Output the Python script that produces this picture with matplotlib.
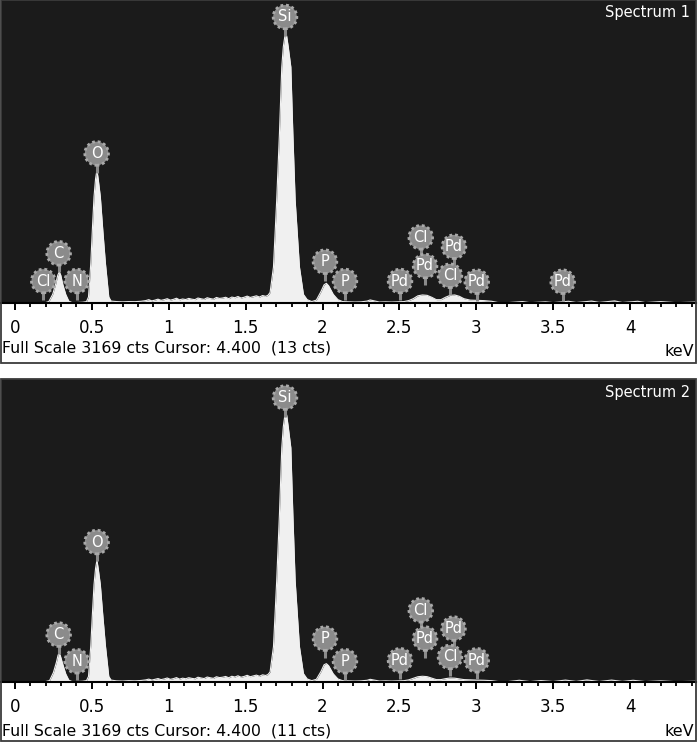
import numpy as np
import matplotlib
matplotlib.use("Agg")
import matplotlib.pyplot as plt
from matplotlib.patches import Rectangle

# ---------------- data ----------------
full_scale = 3169

energy1 = [0.17, 0.20, 0.22, 0.245, 0.265, 0.278, 0.288, 0.298, 0.31, 0.33, 0.35, 0.37,
           0.40, 0.44, 0.465, 0.478, 0.493, 0.503, 0.514, 0.524, 0.533, 0.541, 0.555, 0.571, 0.588, 0.61, 0.625,
           0.66, 0.70, 0.74, 0.78, 0.82, 0.85, 0.87, 0.89, 0.91, 0.93, 0.95, 0.97, 0.99, 1.01, 1.03,
           1.05, 1.07, 1.09, 1.11, 1.13, 1.15, 1.17, 1.19, 1.21, 1.23, 1.25, 1.27, 1.29, 1.31, 1.33,
           1.35, 1.37, 1.39, 1.41, 1.43, 1.45, 1.47, 1.49, 1.51, 1.53, 1.55, 1.57, 1.59, 1.61, 1.63, 1.645,
           1.659, 1.681, 1.702, 1.720, 1.735, 1.745, 1.755, 1.761, 1.767, 1.777, 1.794, 1.807, 1.822, 1.850, 1.876, 1.90, 1.93,
           1.96, 1.99, 2.01, 2.025, 2.04, 2.07, 2.10, 2.13,
           2.17, 2.21, 2.25, 2.29, 2.31, 2.33, 2.37, 2.41, 2.45, 2.49, 2.53, 2.56, 2.59, 2.62, 2.65, 2.68,
           2.71, 2.74, 2.77, 2.80, 2.83, 2.86, 2.89, 2.92, 2.96, 3.00, 3.05, 3.10, 3.14,
           3.2, 3.3, 3.35, 3.45, 3.5, 3.6, 3.65, 3.75, 3.8, 3.9, 3.95, 4.05, 4.1, 4.2, 4.3, 4.43]
counts1 = [0, 5, 15, 90, 200, 290, 327, 290, 200, 90, 20, 5,
           5, 8, 15, 63, 418, 764, 1112, 1300, 1390, 1300, 1112, 764, 418, 63, 20,
           15, 12, 15, 14, 18, 25, 35, 22, 30, 40, 28, 35, 45, 30, 38,
           50, 33, 42, 36, 48, 40, 35, 52, 44, 38, 55, 46, 40, 58, 48,
           52, 60, 45, 62, 55, 68, 52, 60, 72, 58, 66, 75, 62, 78, 70, 80,
           110, 377, 1077, 1778, 2468, 2680, 2790, 2824, 2790, 2680, 2468, 1778, 1077, 377, 90, 35, 15,
           30, 120, 190, 206, 180, 90, 35, 15,
           12, 10, 12, 20, 32, 25, 10, 12, 10, 12, 15, 25, 45, 75, 84, 80,
           60, 35, 35, 60, 80, 84, 70, 45, 30, 28, 25, 18, 5,
           3, 15, 3, 12, 4, 18, 5, 20, 6, 22, 5, 18, 4, 15, 3, 10]

energy2 = [0.17, 0.20, 0.225, 0.25, 0.27, 0.28, 0.287, 0.295, 0.31, 0.33, 0.35, 0.37,
           0.40, 0.44, 0.465, 0.478, 0.493, 0.503, 0.514, 0.524, 0.533, 0.541, 0.555, 0.571, 0.588, 0.61, 0.625,
           0.66, 0.70, 0.74, 0.78, 0.82, 0.85, 0.87, 0.89, 0.91, 0.93, 0.95, 0.97, 0.99, 1.01, 1.03,
           1.05, 1.07, 1.09, 1.11, 1.13, 1.15, 1.17, 1.19, 1.21, 1.23, 1.25, 1.27, 1.29, 1.31, 1.33,
           1.35, 1.37, 1.39, 1.41, 1.43, 1.45, 1.47, 1.49, 1.51, 1.53, 1.55, 1.57, 1.59, 1.61, 1.63, 1.645,
           1.659, 1.681, 1.702, 1.720, 1.735, 1.745, 1.755, 1.761, 1.767, 1.777, 1.794, 1.807, 1.822, 1.850, 1.876, 1.90, 1.93,
           1.96, 1.99, 2.01, 2.025, 2.04, 2.07, 2.10, 2.13,
           2.17, 2.21, 2.25, 2.29, 2.31, 2.33, 2.37, 2.41, 2.45, 2.49, 2.53, 2.56, 2.59, 2.62, 2.65, 2.68,
           2.71, 2.74, 2.77, 2.80, 2.83, 2.86, 2.89, 2.92, 2.96, 3.00, 3.05, 3.10, 3.14,
           3.2, 3.28, 3.35, 3.42, 3.5, 3.58, 3.65, 3.72, 3.8, 3.88, 3.95, 4.02, 4.1, 4.2, 4.3, 4.43]
counts2 = [0, 5, 15, 100, 210, 280, 303, 275, 190, 85, 20, 5,
           5, 8, 15, 58, 383, 700, 1019, 1190, 1273, 1190, 1019, 700, 383, 58, 20,
           12, 10, 14, 12, 16, 22, 30, 20, 28, 36, 25, 32, 42, 28, 35,
           46, 30, 40, 34, 45, 38, 33, 50, 42, 36, 52, 44, 38, 55, 46,
           50, 58, 44, 60, 52, 65, 50, 58, 70, 55, 64, 72, 60, 75, 68, 78,
           105, 370, 1060, 1760, 2450, 2670, 2790, 2824, 2790, 2670, 2450, 1760, 1060, 370, 88, 32, 14,
           28, 110, 180, 192, 170, 85, 32, 14,
           12, 10, 12, 18, 28, 22, 10, 12, 10, 12, 14, 22, 38, 55, 60, 56,
           40, 25, 25, 35, 42, 40, 32, 25, 22, 20, 18, 14, 5,
           3, 18, 4, 15, 5, 20, 6, 22, 5, 20, 6, 18, 4, 12, 3, 8]

# element markers: name, energy (keV), marker height (cts)
names1 = ["Cl", "C", "N", "O", "Si", "P", "P", "Cl", "Pd", "Pd", "Pd", "Cl", "Pd", "Pd"]
lines1 = [0.184, 0.284, 0.401, 0.531, 1.756, 2.016, 2.146, 2.639, 2.667, 2.504, 2.855, 2.829, 3.003, 3.562]
marks1 = [230, 520, 230, 1564, 2992, 432, 230, 687, 387, 230, 589, 285, 223, 223]

names2 = ["C", "N", "O", "Si", "P", "P", "Cl", "Pd", "Pd", "Pd", "Cl", "Pd"]
lines2 = [0.284, 0.401, 0.531, 1.756, 2.016, 2.146, 2.639, 2.667, 2.504, 2.852, 2.829, 3.003]
marks2 = [496, 217, 1464, 2975, 454, 217, 750, 454, 227, 559, 262, 227]

spectrum_titles = ["Spectrum 1", "Spectrum 2"]
cursor_texts = ["Full Scale 3169 cts Cursor: 4.400  (13 cts)",
                "Full Scale 3169 cts Cursor: 4.400  (11 cts)"]

# ---------------- layout ----------------
W, H = 700, 742
fig = plt.figure(figsize=(W / 100, H / 100), dpi=100)
fig.patch.set_facecolor("white")

def fx(px):
    return px / W

def fy(py):
    return 1 - py / H

panel_tops = [0, 379]
dark_h = 303
box_bottoms = [363, 741]
txt_base = [352.5, 735]
kev_base = [356.5, 736.5]

bg = "#1b1b1b"
fillc = "#f0f0f0"
markc = "#8b8b8b"

spectra = [(energy1, counts1, names1, lines1, marks1),
           (energy2, counts2, names2, lines2, marks2)]

for i, (en, ct, nm, ln, mk) in enumerate(spectra):
    top = panel_tops[i]
    ax = fig.add_axes([fx(1), fy(top + dark_h), fx(695), dark_h / H])
    ax.set_facecolor(bg)
    ax.fill_between(en, ct, 0, color=fillc, lw=0, zorder=2)
    ax.plot(en, ct, color=fillc, lw=0.8, zorder=2)
    ax.set_xlim(-0.091, 4.429)
    ax.set_ylim(0, full_scale)
    ax.set_xticks(np.arange(0, 4.01, 0.5))
    ax.set_xticklabels(["0", "0.5", "1", "1.5", "2", "2.5", "3", "3.5", "4"])
    ax.set_xticks(np.arange(0, 4.45, 0.1), minor=True)
    ax.set_yticks([])
    ax.tick_params(axis="x", which="major", direction="out", length=5, width=1.4,
                   color="black", labelsize=12, pad=6.5)
    ax.tick_params(axis="x", which="minor", direction="out", length=2.6, width=1.3, color="black")
    for s in ["top", "left", "right"]:
        ax.spines[s].set_visible(False)
    ax.spines["bottom"].set_color("black")
    ax.spines["bottom"].set_linewidth(1.5)

    # element markers: stem + gear-like circle + symbol
    for k, (name, e, y) in enumerate(zip(nm, ln, mk)):
        z = 5 + k
        ax.plot([e, e], [y - 200, y], color=markc, lw=2.2, zorder=z, solid_capstyle="butt")
        ax.scatter([e], [y], s=290, color=markc, edgecolors="#a9a9a9", linewidths=2,
                   linestyle=(0, (1, 1)), zorder=z + 0.1)
        ax.text(e, y, name, color="white", fontsize=10.5, ha="center", va="center",
                zorder=z + 0.2)

    ax.text(0.991, 1 - 17.5 / dark_h, spectrum_titles[i], transform=ax.transAxes,
            color="white", fontsize=10.5, ha="right", va="baseline")

    fig.text(fx(2), fy(txt_base[i]), cursor_texts[i], fontsize=11.3, ha="left", va="baseline")
    fig.text(fx(694), fy(kev_base[i]), "keV", fontsize=11.5, ha="right", va="baseline")

    fig.patches.append(Rectangle((fx(0.6), fy(box_bottoms[i])), fx(695.4),
                                 (box_bottoms[i] - top) / H, transform=fig.transFigure,
                                 fill=False, edgecolor="#3c3c3c", lw=1.3, zorder=10))

fig.savefig("out.png", dpi=100)
